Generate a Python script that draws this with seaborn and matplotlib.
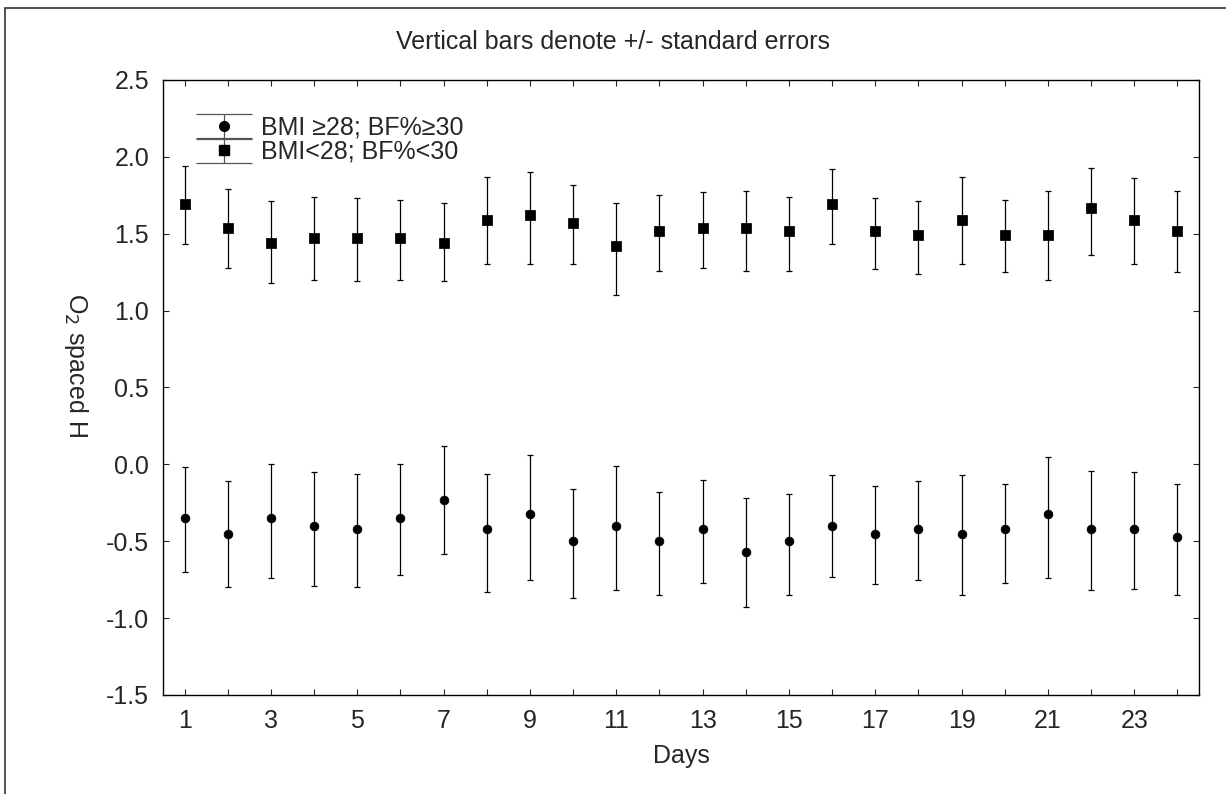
import numpy as np
import pandas as pd
import matplotlib
matplotlib.use('Agg')
import matplotlib.pyplot as plt
import seaborn as sns

days = np.arange(1, 25)
low_mean = [1.69, 1.54, 1.44, 1.47, 1.47, 1.47, 1.44, 1.59, 1.62, 1.57, 1.42, 1.52,
            1.54, 1.54, 1.52, 1.69, 1.52, 1.49, 1.59, 1.49, 1.49, 1.67, 1.59, 1.52]
low_hi = [1.94, 1.79, 1.71, 1.74, 1.73, 1.72, 1.70, 1.87, 1.90, 1.82, 1.70, 1.75,
          1.77, 1.78, 1.74, 1.92, 1.73, 1.71, 1.87, 1.72, 1.78, 1.93, 1.86, 1.78]
low_lo = [1.43, 1.28, 1.18, 1.20, 1.19, 1.20, 1.19, 1.30, 1.30, 1.30, 1.10, 1.26,
          1.28, 1.26, 1.26, 1.43, 1.27, 1.24, 1.30, 1.25, 1.20, 1.36, 1.30, 1.25]
high_mean = [-0.35, -0.45, -0.35, -0.40, -0.42, -0.35, -0.23, -0.42, -0.32, -0.50, -0.40, -0.50,
             -0.42, -0.57, -0.50, -0.40, -0.45, -0.42, -0.45, -0.42, -0.32, -0.42, -0.42, -0.47]
high_hi = [-0.02, -0.11, 0.00, -0.05, -0.06, 0.00, 0.12, -0.06, 0.06, -0.16, -0.01, -0.18,
           -0.10, -0.22, -0.19, -0.07, -0.14, -0.11, -0.07, -0.13, 0.05, -0.04, -0.05, -0.13]
high_lo = [-0.70, -0.80, -0.74, -0.79, -0.80, -0.72, -0.58, -0.83, -0.75, -0.87, -0.82, -0.85,
           -0.77, -0.93, -0.85, -0.73, -0.78, -0.75, -0.85, -0.77, -0.74, -0.82, -0.81, -0.85]

sns.set_theme(style='white')
plt.rcParams['font.family'] = ['Liberation Sans', 'DejaVu Sans']
FS = 18

fig = plt.figure(figsize=(12.26, 7.94), dpi=100)
ax = fig.add_axes([0.133, 0.1247, 0.845, 0.7746])

handles = []
for mean, hi, lo, mk, ms in [(high_mean, high_hi, high_lo, 'o', 40), (low_mean, low_hi, low_lo, 's', 45)]:
    m = np.array(mean)
    ax.errorbar(days, m, yerr=[m - np.array(lo), np.array(hi) - m], fmt='none',
                ecolor='black', elinewidth=0.9, capsize=2.5, capthick=0.9)
    df = pd.DataFrame({'day': days, 'val': m})
    sns.scatterplot(data=df, x='day', y='val', marker=mk, color='black', s=ms,
                    edgecolor='black', ax=ax)
    # off-screen point only used for the legend handle
    h = ax.errorbar([-10], [0], yerr=[1], fmt=mk, color='black', ms=7, ecolor='#555555',
                    elinewidth=0.9, capsize=20, capthick=0.9)
    handles.append(h)

ax.set_xlim(0.5, 24.5)
ax.set_ylim(-1.5, 2.5)
ax.set_xticks(range(1, 24, 2))
ax.set_xticks(range(1, 25), minor=True)
ax.set_yticks(np.arange(-1.5, 2.51, 0.5))
ax.set_yticklabels([f'{v:.1f}' for v in np.arange(-1.5, 2.51, 0.5)])
ax.tick_params(which='both', labelsize=FS, length=4, width=0.8, direction='in',
               bottom=True, left=True, top=True, right=True, pad=10)
for s in ax.spines.values():
    s.set_color('black')
    s.set_linewidth(1)
ax.set_xlabel('Days', fontsize=FS, labelpad=8)
ax.set_ylabel('')
fig.text(0.062, 0.54, 'O$_2$ spaced H', fontsize=FS, rotation=270, ha='center', va='center')
fig.text(0.5, 0.947, 'Vertical bars denote +/- standard errors', fontsize=FS, ha='center', va='center')
ax.legend(handles, ['BMI ≥28; BF%≥30', 'BMI<28; BF%<30'], loc='upper left',
          bbox_to_anchor=(0.015, 0.97), frameon=False, fontsize=FS,
          handletextpad=0.4, labelspacing=0.0, borderpad=0.2, handlelength=2.2)

fig.patches.append(plt.Rectangle((0.004, -0.01), 1.1, 1.0, transform=fig.transFigure,
                                 fill=False, edgecolor='#333333', linewidth=1.2))
fig.savefig('out.png', dpi=100)
